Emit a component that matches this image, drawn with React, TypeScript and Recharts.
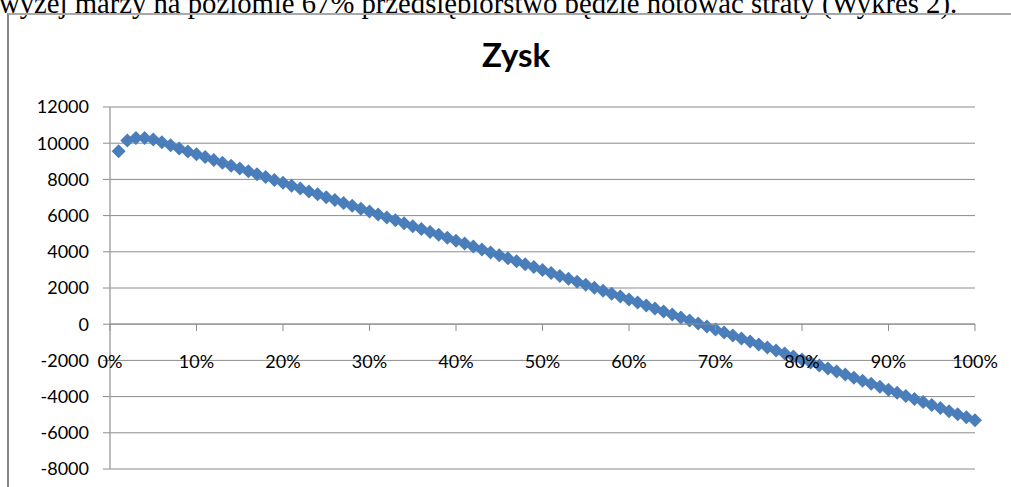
import React from 'react';
import { ScatterChart, Scatter, XAxis, YAxis, CartesianGrid } from 'recharts';

const margins = [
  1, 2, 3, 4, 5, 6, 7, 8, 9, 10,
  11, 12, 13, 14, 15, 16, 17, 18, 19, 20,
  21, 22, 23, 24, 25, 26, 27, 28, 29, 30,
  31, 32, 33, 34, 35, 36, 37, 38, 39, 40,
  41, 42, 43, 44, 45, 46, 47, 48, 49, 50,
  51, 52, 53, 54, 55, 56, 57, 58, 59, 60,
  61, 62, 63, 64, 65, 66, 67, 68, 69, 70,
  71, 72, 73, 74, 75, 76, 77, 78, 79, 80,
  81, 82, 83, 84, 85, 86, 87, 88, 89, 90,
  91, 92, 93, 94, 95, 96, 97, 98, 99, 100,
];

const profit = [
  9560, 10150, 10290, 10290, 10210, 10050, 9880, 9705, 9548, 9391,
  9234, 9076, 8919, 8761, 8603, 8445, 8287, 8129, 7971, 7812,
  7654, 7495, 7336, 7177, 7018, 6858, 6699, 6539, 6380, 6220,
  6060, 5900, 5739, 5579, 5418, 5258, 5097, 4936, 4775, 4614,
  4452, 4291, 4129, 3967, 3805, 3643, 3481, 3319, 3156, 2994,
  2830, 2668, 2505, 2342, 2178, 2015, 1851, 1688, 1524, 1360,
  1196, 1031, 867, 702, 538, 373, 208, 43, -122, -288,
  -453, -619, -785, -951, -1117, -1283, -1449, -1616, -1782, -1949,
  -2116, -2283, -2450, -2618, -2785, -2953, -3120, -3288, -3456, -3624,
  -3793, -3961, -4130, -4298, -4467, -4636, -4805, -4974, -5144, -5313,
];

const yTicks = [-8000, -6000, -4000, -2000, 0, 2000, 4000, 6000, 8000, 10000, 12000];
const xTicks = [0, 10, 20, 30, 40, 50, 60, 70, 80, 90, 100];
const xTickLabels = ['0%', '10%', '20%', '30%', '40%', '50%', '60%', '70%', '80%', '90%', '100%'];

const chartTitle = 'Zysk';
const pageText = 'wyżej marży na poziomie 67% przedsiębiorstwo będzie notować straty (Wykres 2).';

const points = margins.map((m, i) => ({ x: m, y: profit[i] }));

const FONT = 'Lato, "Open Sans", sans-serif';
const tickStyle = { fill: '#000', fontSize: 18, fontFamily: FONT };

const Diamond = (props: any) => {
  const { cx, cy } = props;
  if (cx == null || cy == null) return <g />;
  const r = 7;
  return (
    <polygon
      points={`${cx},${cy - r} ${cx + r},${cy} ${cx},${cy + r} ${cx - r},${cy}`}
      fill="#4a7ebb"
    />
  );
};

const Empty = () => <g />;

export default function App() {
  return (
    <div
      style={{
        position: 'fixed',
        left: 0,
        top: 0,
        width: 1011,
        height: 487,
        overflow: 'hidden',
        background: '#fff',
      }}
    >
      <svg width={1011} height={30} style={{ position: 'absolute', left: 0, top: 0 }}>
        <text x={-1} y={13} fontFamily='"Liberation Serif", serif' fontSize={28.7} fill="#000">
          {pageText}
        </text>
      </svg>
      <div
        style={{
          position: 'absolute',
          left: 7,
          top: 13,
          width: 1100,
          height: 600,
          borderLeft: '2px solid #858585',
          borderTop: '2px solid #a8a8a8',
        }}
      />
      <div style={{ position: 'absolute', left: 0, top: 0 }}>
        <ScatterChart width={1011} height={487} margin={{ top: 107, right: 36, bottom: 18, left: 10 }}>
          <CartesianGrid vertical={false} stroke="#8c8c8c" />
          <XAxis type="number" dataKey="x" domain={[0, 100]} ticks={xTicks} hide />
          <YAxis
            type="number"
            dataKey="y"
            domain={[-8000, 12000]}
            ticks={yTicks}
            interval={0}
            width={100}
            tickSize={7}
            tickMargin={14}
            tick={tickStyle}
            axisLine={{ stroke: '#a6a6a6', strokeWidth: 1.5 }}
            tickLine={{ stroke: '#8c8c8c' }}
          />
          <Scatter data={points} shape={<Diamond />} isAnimationActive={false} />
        </ScatterChart>
      </div>
      <div style={{ position: 'absolute', left: 0, top: 0, pointerEvents: 'none' }}>
        <ScatterChart width={1011} height={380} margin={{ top: 107, right: 36, bottom: 0, left: 110 }}>
          <XAxis
            type="number"
            dataKey="x"
            domain={[0, 100]}
            ticks={xTicks}
            interval={0}
            height={56}
            tickSize={7}
            tickMargin={24}
            tick={tickStyle}
            tickFormatter={(v: number) => xTickLabels[xTicks.indexOf(v)] ?? ''}
            axisLine={{ stroke: '#8c8c8c' }}
            tickLine={{ stroke: '#8c8c8c' }}
          />
          <YAxis type="number" dataKey="y" domain={[0, 12000]} hide allowDataOverflow />
          <Scatter data={points} shape={<Empty />} isAnimationActive={false} />
        </ScatterChart>
      </div>
      <svg width={1011} height={100} style={{ position: 'absolute', left: 0, top: 0 }}>
        <text x={516} y={67} textAnchor="middle" fontFamily={FONT} fontWeight="bold" fontSize={33} fill="#000">
          {chartTitle}
        </text>
      </svg>
    </div>
  );
}
